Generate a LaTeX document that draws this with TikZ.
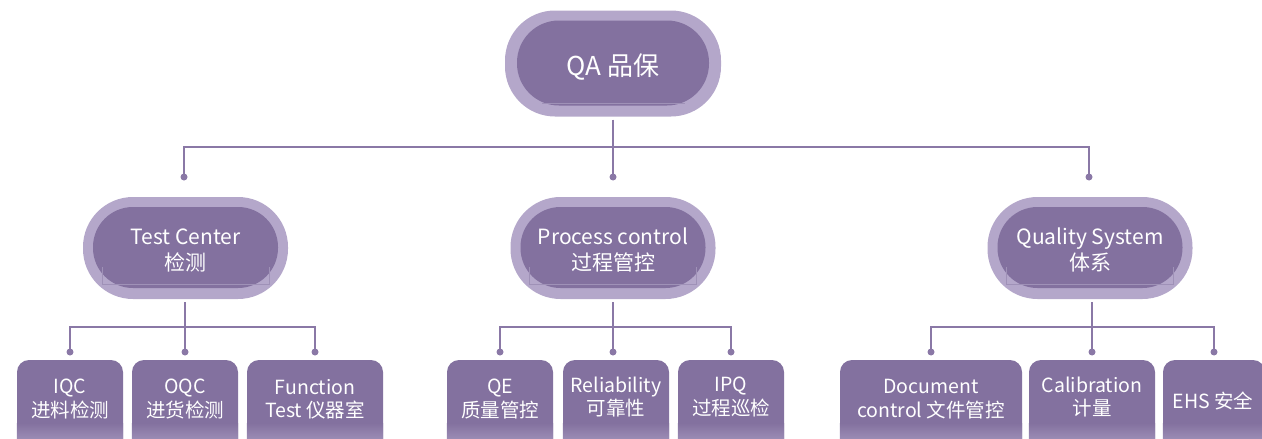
\documentclass[tikz,border=0pt]{standalone}
\usepackage{fontspec}
\setmainfont{Noto Sans CJK SC}
\definecolor{innerc}{HTML}{83719F}
\definecolor{outerc}{HTML}{B4A7CA}
\definecolor{linec}{HTML}{8A78A6}
\definecolor{lightc}{HTML}{9D8EB6}
\definecolor{faintc}{HTML}{9F91B7}
\tikzset{
  outerpill/.style={fill=outerc, draw=none, rounded corners=50pt, inner sep=0pt},
  innerpill/.style={fill=innerc, draw=none, rounded corners=40pt, inner sep=0pt},
  pilltext/.style={text=white, align=center, inner sep=0pt, font=\fontsize{21}{26}\selectfont},
  toptext/.style={text=white, align=center, inner sep=0pt, font=\fontsize{26}{30}\selectfont},
  leaf/.style={fill=innerc, draw=none, rounded corners=12pt, inner sep=0pt, minimum height=100pt},
  leaftext/.style={text=white, align=center, inner sep=0pt, font=\fontsize{19.5}{23.5}\selectfont},
  conn/.style={draw=linec, line width=1.3pt},
  dotn/.style={circle, fill=linec, inner sep=0pt, minimum size=7pt},
  faint/.style={draw=faintc, line width=0.7pt}
}
\begin{document}
\begin{tikzpicture}[x=1pt,y=-1pt]
\useasboundingbox (0,0) rectangle (1262,439);
\clip (0,0) rectangle (1262,439);
% ---------- top node
\node[outerpill, minimum width=216pt, minimum height=106pt] (qa) at (613,63.5) {};
\node[innerpill, minimum width=192pt, minimum height=85pt, rounded corners=42pt] (qain) at (613,63) {};
\draw[faint] (542,103) -- (685,103);
\node[toptext] (qat) at (613,67) {QA 品保};
% ---------- mid nodes
\foreach \n/\x in {tc/185.5, pc/613, qs/1090}{
  \node[outerpill, minimum width=205pt, minimum height=102pt] (\n) at (\x,248) {};
  \node[innerpill, minimum width=185pt, minimum height=81pt] (\n in) at (\x,247.5) {};
  \draw[faint] (\x-83.5,267) -- (\x-83.5,284) -- (\x+83.5,284) -- (\x+83.5,267);
}
\node[pilltext] (tct) at (185.5,250) {Test Center\\检测};
\node[pilltext] (pct) at (613,250) {Process control\\过程管控};
\node[pilltext] (qst) at (1090,250) {Quality System\\体系};
% ---------- top connectors
\coordinate (hbar) at (0,147);
\node[dotn] (d1) at (184,177) {};
\node[dotn] (d2) at (613,177) {};
\node[dotn] (d3) at (1089,177) {};
\draw[conn] ([yshift=-3pt]qa.south) -- (d2.center);
\draw[conn] (d1.center) -- (d1.center |- hbar) -- (d3.center |- hbar) -- (d3.center);
% ---------- leaves
\foreach \n/\x/\w in {iqc/70/106, oqc/185/106, fun/315/136,
                      qe/500/106, rel/616/106, ipq/731/106,
                      doc/931/182, cal/1092/126, ehs/1214/102}{
  \node[leaf, minimum width=\w pt] (\n) at (\x,410) {};
  \shade[top color=innerc, bottom color=lightc] (\n.west |- 0,423) rectangle (\n.east |- 0,440);
}
\node[leaftext] (iqct) at (70,399) {IQC\\进料检测};
\node[leaftext] (oqct) at (185,399) {OQC\\进货检测};
\node[leaftext] (funt) at (315,399) {Function\\Test 仪器室};
\node[leaftext] (qet)  at (500,399) {QE\\质量管控};
\node[leaftext] (relt) at (616,397) {Reliability\\可靠性};
\node[leaftext] (ipqt) at (731,397) {IPQ\\过程巡检};
\node[leaftext] (doct) at (931,399) {Document\\control 文件管控};
\node[leaftext] (calt) at (1092,397) {Calibration\\计量};
\node[leaftext] (ehst) at (1213,401) {EHS 安全};
% ---------- lower connectors
\coordinate (lbar) at (0,327);
\foreach \p/\a/\b/\c in {tc/iqc/oqc/fun, pc/qe/rel/ipq, qs/doc/cal/ehs}{
  \node[dotn] (\p a) at (\a.north |- 0,352) {};
  \node[dotn] (\p c) at (\c.north |- 0,352) {};
}
\node[dotn] (tcb) at (185,352) {};
\node[dotn] (pcb) at (613,352) {};
\node[dotn] (qsb) at (1092,352) {};
\foreach \p in {tc,pc,qs}{
  \draw[conn] ([yshift=-3pt]\p.south -| \p b) -- (\p b.center);
  \draw[conn] (\p a.center) -- (\p a.center |- lbar) -- (\p c.center |- lbar) -- (\p c.center);
}
\end{tikzpicture}
\end{document}
